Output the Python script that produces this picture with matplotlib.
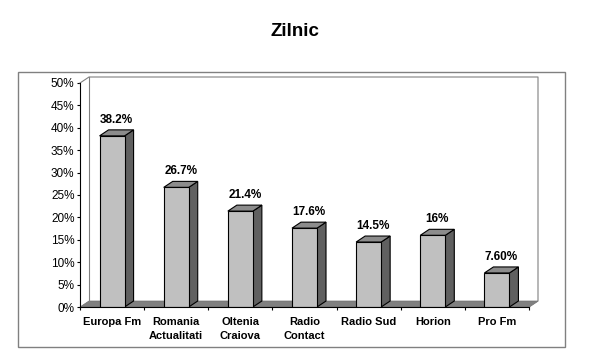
import matplotlib.pyplot as plt
from matplotlib.patches import Polygon
from matplotlib.lines import Line2D
from matplotlib.patches import Rectangle

plt.rcParams['font.family'] = ['Liberation Sans', 'DejaVu Sans']

stations = ["Europa Fm", "Romania\nActualitati", "Oltenia\nCraiova", "Radio\nContact",
            "Radio Sud", "Horion", "Pro Fm"]
share = [38.2, 26.7, 21.4, 17.6, 14.5, 16.0, 7.6]
share_labels = ["38.2%", "26.7%", "21.4%", "17.6%", "14.5%", "16%", "7.60%"]
yticks = [0, 5, 10, 15, 20, 25, 30, 35, 40, 45, 50]

W, H = 590, 354
fig = plt.figure(figsize=(W / 100, H / 100), dpi=100)
ax = fig.add_axes([80 / W, 1 - 307 / H, (529 - 80) / W, (307 - 83) / H])
n = len(stations)
ax.set_xlim(-0.5, n - 0.5)
ax.set_ylim(0, 50)

# depth of the fake 3d, in data units
dx = 9 / (449 / n)
dy = 6 / (224 / 50)
bw = 0.39

# outer frame
fig.patches.append(Rectangle((18 / W, 1 - 347 / H), (565 - 18) / W, (347 - 72) / H,
                             transform=fig.transFigure, fill=False, ec="#808080", lw=1))

x0, x1 = -0.5, n - 0.5
# back wall lines
wall = dict(color="#808080", lw=0.8, clip_on=False)
ax.add_line(Line2D([x0, x0 + dx, x1 + dx, x1 + dx, x1], [50, 50 + dy, 50 + dy, dy, 0], **wall))
ax.add_line(Line2D([x0 + dx, x0 + dx], [50 + dy, dy], **wall))
# floor
ax.add_patch(Polygon([(x0, 0), (x1, 0), (x1 + dx, dy), (x0 + dx, dy)], closed=True,
                     fc="#808080", ec="#707070", lw=0.5, clip_on=False, zorder=1))

for i, v in enumerate(share):
    l, r = i - bw / 2, i + bw / 2
    ax.add_patch(Polygon([(r, 0), (r + dx, dy), (r + dx, v + dy), (r, v)], closed=True,
                         fc="#606060", ec="black", lw=0.8, clip_on=False, zorder=2))
    ax.add_patch(Polygon([(l, v), (r, v), (r + dx, v + dy), (l + dx, v + dy)], closed=True,
                         fc="#8c8c8c", ec="black", lw=0.8, clip_on=False, zorder=2))
    ax.annotate(share_labels[i], (i + dx / 2, v + dy), xytext=(0, 3), textcoords="offset points",
                ha="center", va="bottom", fontsize=8.5, fontweight="bold")
ax.bar(range(n), share, width=bw, color="#c0c0c0", edgecolor="black", linewidth=0.8, zorder=3)

for s in ["top", "right"]:
    ax.spines[s].set_visible(False)
ax.spines["left"].set_linewidth(0.8)
ax.spines["bottom"].set_linewidth(0.8)
ax.spines["bottom"].set_zorder(4)
ax.set_yticks(yticks)
ax.set_yticklabels([f"{t}%" for t in yticks])
ax.tick_params(axis="y", length=2.5, width=0.8, pad=1.5, labelsize=8.5)
ax.set_xticks([k + 0.5 for k in range(-1, n)])
ax.set_xticklabels([])
ax.tick_params(axis="x", length=2.5, width=0.8)
for i, s in enumerate(stations):
    ax.annotate(s, (i, 0), xytext=(0, -7), textcoords="offset points", ha="center", va="top",
                fontsize=8, fontweight="bold", linespacing=1.5, annotation_clip=False)

fig.text(0.5, 1 - 31 / H, "Zilnic", ha="center", va="center", fontsize=13.5, fontweight="bold")

fig.savefig("out.png", dpi=100)
